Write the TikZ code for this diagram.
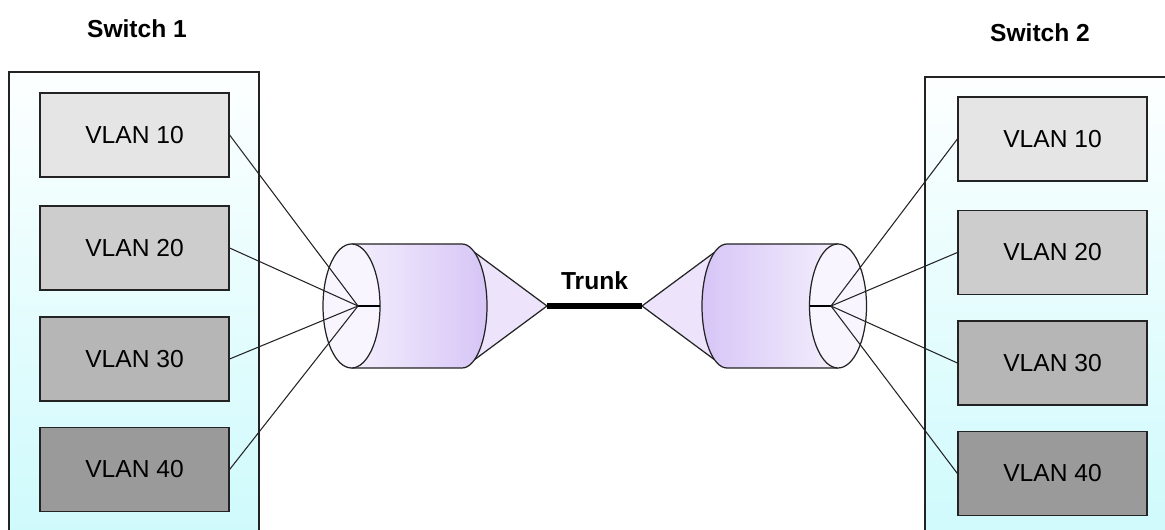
\documentclass[tikz,border=0pt]{standalone}
\usepackage{fontspec}
\setmainfont{Liberation Sans}
\usepackage{tikz}
\usetikzlibrary{positioning,calc}
\definecolor{vlA}{RGB}{229,229,229}
\definecolor{vlB}{RGB}{205,205,205}
\definecolor{vlC}{RGB}{182,182,182}
\definecolor{vlD}{RGB}{154,154,154}
\definecolor{swTop}{RGB}{253,255,255}
\definecolor{swBot}{RGB}{206,250,252}
\definecolor{cylLight}{RGB}{244,239,253}
\definecolor{cylDark}{RGB}{214,197,246}
\definecolor{coneFill}{RGB}{237,228,251}
\definecolor{edge}{RGB}{35,35,35}

\begin{document}
\begin{tikzpicture}[
  font=\fontsize{14}{16}\selectfont,
  switch/.style={draw=edge, line width=0.6pt, top color=swTop, bottom color=swBot, minimum width=50mm, minimum height=93.6mm, inner sep=0pt},
  vlan/.style={draw=edge, line width=0.7pt, minimum width=37.8mm, minimum height=16.8mm, inner sep=0pt},
  swlbl/.style={font=\fontsize{14}{16}\selectfont\bfseries},
  wire/.style={draw=edge, line width=0.6pt},
  cyl/.style={draw=edge, line width=0.7pt}
]
\useasboundingbox (0,0) rectangle (23.3,10.6);

%============ SWITCH 1 ============
\node[switch] (sw1) at (2.68,4.48) {};
\node[swlbl] (sw1lbl) at (2.74,10.02) {Switch 1};
\foreach \v/\y/\c in {10/7.9/vlA, 20/5.64/vlB, 30/3.42/vlC, 40/1.21/vlD}
  \node[vlan, fill=\c] (l\v) at (2.69,\y) {VLAN \v};

%============ SWITCH 2 ============
\node[switch] (sw2) at (21.0,4.38) {};
\node[swlbl] (sw2lbl) at (20.8,9.94) {Switch 2};
\foreach \v/\y/\c in {10/7.82/vlA, 20/5.55/vlB, 30/3.34/vlC, 40/1.13/vlD}
  \node[vlan, fill=\c] (r\v) at (21.05,\y) {VLAN \v};

%============ LEFT BUNDLE ============
\coordinate (fanL) at (7.16,4.48);
\coordinate (tipL) at (10.94,4.48);
% cone
\draw[cyl, fill=coneFill] ($(9.24,4.48)+(60:0.5 and 1.24)$) -- (tipL) -- ($(9.24,4.48)+(-60:0.5 and 1.24)$);
% body
\draw[cyl, left color=cylLight, right color=cylDark] (7.03,5.72) -- (9.24,5.72)
  arc[start angle=90, end angle=-90, x radius=0.5, y radius=1.24] -- (7.03,3.24);
% front face
\draw[cyl, fill=cylLight!60!white] (7.03,4.48) ellipse [x radius=0.57, y radius=1.24];
\draw[line width=1.3pt] (fanL) -- (7.6,4.48);
\foreach \v in {10,20,30,40}
  \draw[wire] (l\v.east) -- (fanL);

%============ RIGHT BUNDLE ============
\coordinate (fanR) at (16.62,4.48);
\coordinate (tipR) at (12.84,4.48);
% cone
\draw[cyl, fill=coneFill] ($(14.54,4.48)+(120:0.5 and 1.24)$) -- (tipR) -- ($(14.54,4.48)+(240:0.5 and 1.24)$);
% body
\draw[cyl, left color=cylDark, right color=cylLight] (16.76,5.72) -- (14.54,5.72)
  arc[start angle=90, end angle=270, x radius=0.5, y radius=1.24] -- (16.76,3.24);
% front face
\draw[cyl, fill=cylLight!60!white] (16.76,4.48) ellipse [x radius=0.57, y radius=1.24];
\draw[line width=1.3pt] (16.19,4.48) -- (fanR);
\foreach \v in {10,20,30,40}
  \draw[wire] (r\v.west) -- (fanR);

%============ TRUNK ============
\draw[line width=3.6pt] (tipL) -- (tipR) node[swlbl, midway, above=1.4mm] (trunk) {Trunk};

\end{tikzpicture}
\end{document}
